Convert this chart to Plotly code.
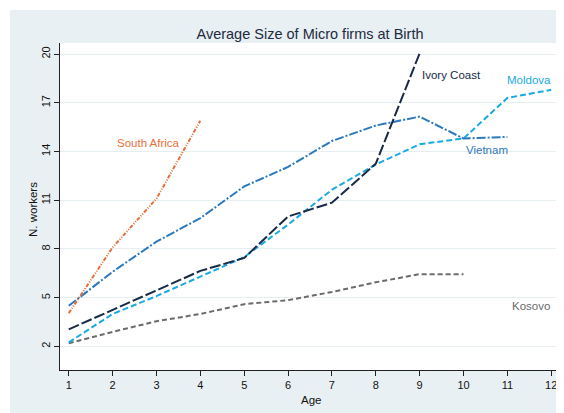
import plotly.graph_objects as go

title = "Average Size of Micro firms at Birth"
ages = [1, 2, 3, 4, 5, 6, 7, 8, 9, 10, 11, 12]

south_africa = [4.05, 8.1, 11.1, 15.9]
ivory_coast = [3.05, 4.25, 5.4, 6.65, 7.45, 10.0, 10.85, 13.25, 20.05]
moldova = [2.25, 4.0, 5.1, 6.3, 7.5, 9.5, 11.65, 13.2, 14.45, 14.8, 17.3, 17.8]
vietnam = [4.5, 6.6, 8.45, 9.9, 11.85, 13.05, 14.65, 15.6, 16.15, 14.8, 14.9]
kosovo = [2.2, 2.9, 3.55, 4.0, 4.6, 4.85, 5.35, 5.95, 6.45, 6.45]

y_ticks = [2, 5, 8, 11, 14, 17, 20]

series = [
    ("Kosovo", kosovo, "#6b6b6b", "5px,3px", 2),
    ("Moldova", moldova, "#1ba9e1", "6px,3px", 2),
    ("Vietnam", vietnam, "#2a78bd", "9px,2px,2px,2px", 2),
    ("Ivory Coast", ivory_coast, "#182a45", "11px,3px", 2),
    ("South Africa", south_africa, "#e5703b", "4px,1.5px,1px,1.5px,1px,1.5px", 2),
]

fig = go.Figure()
for name, vals, color, dash, w in series:
    fig.add_trace(go.Scatter(
        x=ages[:len(vals)], y=vals, mode="lines", name=name,
        line=dict(color=color, width=w, dash=dash),
        showlegend=False, hoverinfo="skip",
    ))

labels = [
    ("South Africa", 2.1, 14.5, "#e5703b"),
    ("Ivory Coast", 9.05, 18.7, "#182a45"),
    ("Moldova", 11.0, 18.4, "#1ba9e1"),
    ("Vietnam", 10.05, 14.1, "#2a78bd"),
    ("Kosovo", 11.1, 4.5, "#6b6b6b"),
]
for text, x, y, c in labels:
    fig.add_annotation(x=x, y=y, text=text, showarrow=False, xanchor="left",
                       yanchor="middle", xshift=-2, font=dict(size=11.5, color=c))

# page layout: figure drawn at (8,8) in page; plot area page x 60..560, y 43..370
W, H = 556, 405
fig.update_layout(
    width=W, height=H,
    margin=dict(l=52, r=4, t=35, b=43),
    paper_bgcolor="#e9f0f3", plot_bgcolor="white",
    font=dict(family="Liberation Sans, Arial, sans-serif", color="#111111"),
    title=dict(text=title, x=(310-8)/W, xanchor="center", y=1-(34-8)/H, yanchor="middle",
               font=dict(size=14.5, color="#1d2b3e")),
    xaxis=dict(range=[0.8, 12.2], tickvals=ages, ticks="outside", ticklen=5,
               tickcolor="#222", showline=True, linecolor="#222", linewidth=1,
               showgrid=False, zeroline=False, tickfont=dict(size=11, color="#111")),
    yaxis=dict(range=[0.55, 20.68], tickvals=y_ticks, ticks="outside", ticklen=5,
               tickcolor="#222", showline=True, linecolor="#222", linewidth=1,
               showgrid=True, gridcolor="#e6eef1", gridwidth=1.2, zeroline=False,
               tickangle=-90, tickfont=dict(size=11, color="#111")),
    shapes=[
        dict(type="rect", xref="paper", yref="paper", x0=-0.2, x1=1.1,
             y0=(370-10)/327, y1=1.3, fillcolor="white", line=dict(width=0), layer="below"),
        dict(type="rect", xref="paper", yref="paper", x0=-0.2, x1=(10-60)/500,
             y0=-0.3, y1=1.3, fillcolor="white", line=dict(width=0), layer="below"),
    ],
)
fig.add_annotation(xref="paper", yref="paper", x=(311-60)/500, y=(370-400)/327,
                   text="Age", showarrow=False, font=dict(size=11.5, color="#111"),
                   yanchor="middle")
fig.add_annotation(xref="paper", yref="paper", x=(33-60)/500, y=(370-210)/327,
                   text="N. workers", showarrow=False, textangle=-90,
                   font=dict(size=11.5, color="#111"), xanchor="center")

fig.write_html("out.html")
